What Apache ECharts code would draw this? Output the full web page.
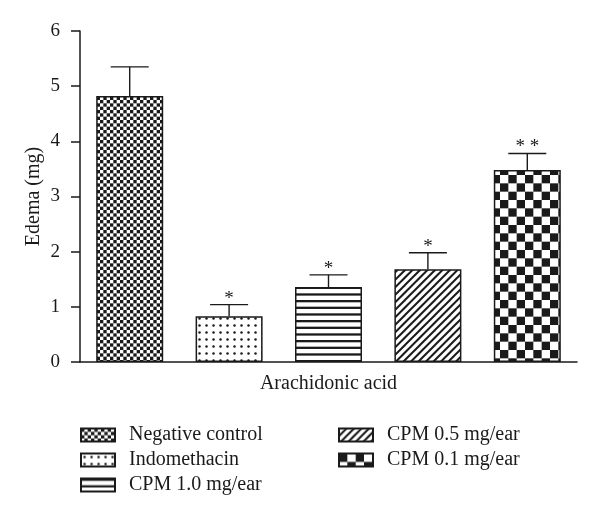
<!DOCTYPE html>
<html>
<head>
<meta charset="utf-8">
<script src="https://cdn.jsdelivr.net/npm/echarts@6/dist/echarts.min.js"></script>
<style>html,body{margin:0;padding:0;background:#fff;}#c{width:600px;height:516px;}</style>
</head>
<body>
<div id="c"></div>
<script>
const categories = ['Negative control', 'Indomethacin', 'CPM 1.0 mg/ear', 'CPM 0.5 mg/ear', 'CPM 0.1 mg/ear'];
const means = [4.82, 0.83, 1.36, 1.68, 3.48];
const errors = [0.53, 0.21, 0.22, 0.30, 0.30];
const marks = ['', '*', '*', '*', '**'];
const yTicks = [0, 1, 2, 3, 4, 5, 6];

const FONT = 'Liberation Serif';
const INK = '#1a1a1a';

function makePattern(w, h, draw) {
  const c = document.createElement('canvas');
  c.width = w; c.height = h;
  const ctx = c.getContext('2d');
  ctx.fillStyle = '#fff';
  ctx.fillRect(0, 0, w, h);
  ctx.fillStyle = INK;
  ctx.strokeStyle = INK;
  draw(ctx, w, h);
  return { image: c, repeat: 'repeat' };
}
function checker(size, n) {
  return makePattern(size, size, (ctx) => {
    const s = size / n;
    for (let i = 0; i < n; i++) for (let j = 0; j < n; j++)
      if ((i + j) % 2 === 0) ctx.fillRect(i * s, j * s, s, s);
  });
}
const patterns = [
  checker(20, 6),
  makePattern(7, 7, (ctx) => { ctx.beginPath(); ctx.arc(3.5, 3.5, 1.25, 0, Math.PI * 2); ctx.fill(); }),
  makePattern(10, 20, (ctx) => { for (let k = 0; k < 3; k++) ctx.fillRect(0, k * 20 / 3, 10, 2.3); }),
  makePattern(15, 15, (ctx) => {
    ctx.lineWidth = 2;
    const s = 7.5;
    for (let k = -2; k <= 4; k++) {
      ctx.beginPath();
      ctx.moveTo(k * s - 1, 15 + 1);
      ctx.lineTo(k * s + 15 + 1, -1);
      ctx.stroke();
    }
  }),
  checker(50, 6)
];

const barSeries = categories.map((name, i) => ({
  name: name,
  type: 'bar',
  barWidth: 67,
  barGap: '-100%',
  data: means.map((v, j) => (j === i ? v : '-')),
  itemStyle: { color: patterns[i], borderColor: INK, borderWidth: 1.5 },
  emphasis: { disabled: true },
  z: 2
}));

const errSeries = {
  type: 'custom',
  name: 'err',
  data: means.map((v, i) => [i, v, errors[i]]),
  encode: { x: 0, y: 1 },
  z: 3,
  renderItem: function (params, api) {
    const i = api.value(0);
    const v = api.value(1);
    const e = api.value(2);
    const m = marks[i];
    const p0 = api.coord([i, v]);
    const p1 = api.coord([i, v + e]);
    const hw = 19;
    const children = [
      { type: 'line', shape: { x1: p0[0], y1: p0[1], x2: p1[0], y2: p1[1] }, style: { stroke: INK, lineWidth: 1.4 } },
      { type: 'line', shape: { x1: p1[0] - hw, y1: p1[1], x2: p1[0] + hw, y2: p1[1] }, style: { stroke: INK, lineWidth: 1.4 } }
    ];
    if (m) {
      children.push({
        type: 'text',
        style: {
          text: m.split('').join(' '),
          x: p1[0], y: p1[1] - 6,
          align: 'center', verticalAlign: 'middle',
          font: '19px "' + FONT + '"', fill: INK
        }
      });
    }
    return { type: 'group', children: children };
  }
};

// legend layout: two columns, rows 25px apart
const legendPos = [[80, 425], [80, 450], [80, 475], [338, 425], [338, 450]];
const legends = categories.map((name, i) => ({
  orient: 'vertical',
  icon: 'rect',
  itemWidth: 34,
  itemHeight: 13,
  selectedMode: false,
  left: legendPos[i][0],
  top: legendPos[i][1],
  padding: 0,
  data: [name],
  textStyle: { fontFamily: FONT, fontSize: 20, color: INK, padding: [0, 0, 0, 9] }
}));

const chart = echarts.init(document.getElementById('c'), null, { renderer: 'canvas' });
chart.setOption({
  backgroundColor: '#fff',
  animation: false,
  grid: { left: 80, right: 23, top: 31, bottom: 154 },
  xAxis: {
    type: 'category',
    data: categories,
    name: 'Arachidonic acid',
    nameLocation: 'middle',
    nameGap: 12,
    nameMoveOverlap: false,
    nameTextStyle: { fontFamily: FONT, fontSize: 20, color: INK },
    axisLine: { lineStyle: { color: INK, width: 1.5 } },
    axisTick: { show: false },
    axisLabel: { show: false }
  },
  yAxis: {
    type: 'value',
    min: yTicks[0],
    max: yTicks[yTicks.length - 1],
    interval: 1,
    name: 'Edema (mg)',
    nameLocation: 'middle',
    nameGap: 36,
    nameMoveOverlap: false,
    nameTextStyle: { fontFamily: FONT, fontSize: 20, color: INK },
    axisLine: { show: true, lineStyle: { color: INK, width: 1.5 } },
    axisTick: { show: true, length: 9, lineStyle: { color: INK, width: 1.5 } },
    axisLabel: { fontFamily: FONT, fontSize: 19, color: INK, margin: 20 },
    splitLine: { show: false }
  },
  legend: legends,
  series: barSeries.concat([errSeries])
});
</script>
</body>
</html>
